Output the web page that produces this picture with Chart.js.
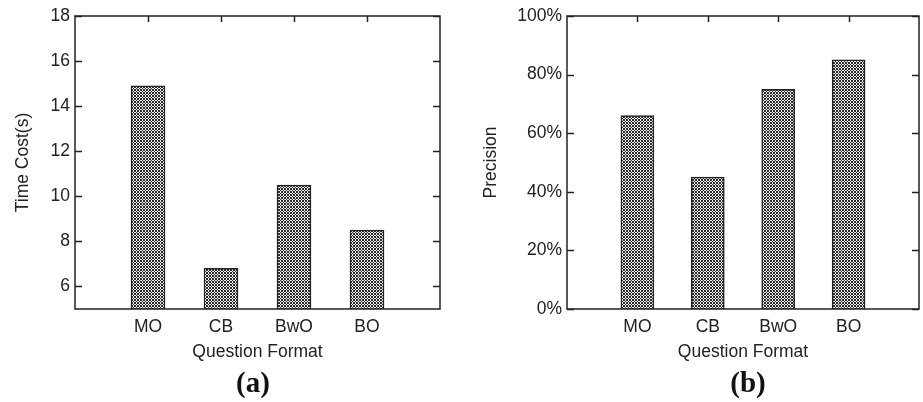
<!DOCTYPE html>
<html>
<head>
<meta charset="utf-8">
<script src="https://cdn.jsdelivr.net/npm/chart.js@4/dist/chart.umd.min.js"></script>
<style>
  body { margin: 0; background: #fff; }
  #wrap { position: relative; width: 923px; height: 402px; }
  .box { position: absolute; top: 0; height: 402px; }
  .cap { position: absolute; top: 365px; font: bold 29px "Liberation Serif", serif; color: #111; transform: translateX(-50%); line-height: 34px; }
</style>
</head>
<body>
<div id="wrap">
  <div class="box" style="left:0;width:462px"><canvas id="timeChart" width="462" height="402"></canvas></div>
  <div class="box" style="left:462px;width:461px"><canvas id="precChart" width="461" height="402"></canvas></div>
  <div class="cap" style="left:253px">(a)</div>
  <div class="cap" style="left:748px">(b)</div>
</div>
<script>
const formats   = ['MO', 'CB', 'BwO', 'BO'];
const timeCost  = [14.9, 6.8, 10.5, 8.5];   // seconds
const precision = [66, 45, 75, 85];         // percent
const timeTicks = [6, 8, 10, 12, 14, 16, 18];
const precTicks = [0, 20, 40, 60, 80, 100];

const INK = '#222';
const FONT = '"Liberation Sans", Arial, sans-serif';
const FS = 17.5;

// checkered hatch like the gnuplot fill
function makePattern() {
    const c = document.createElement('canvas');
    c.width = 3; c.height = 3;
    const g = c.getContext('2d');
    g.fillStyle = '#2a2a2a';
    g.fillRect(0, 0, 3, 3);
    g.fillStyle = '#f0f0f0';
    g.fillRect(1, 0, 1, 1);
    g.fillRect(0, 1, 1, 1);
    g.fillRect(2, 1, 1, 1);
    g.fillRect(1, 2, 1, 1);
    return g.createPattern(c, 'repeat');
}

// frame + inward ticks (left, right, top)
const framePlugin = {
    id: 'frame',
    afterDraw(chart) {
        const { ctx, chartArea: a, scales: { x, y } } = chart;
        ctx.save();
        ctx.strokeStyle = INK;
        ctx.lineWidth = 1.5;
        ctx.beginPath();
        y.ticks.forEach(t => {
            const py = Math.round(y.getPixelForValue(t.value)) + 0.5;
            ctx.moveTo(a.left, py); ctx.lineTo(a.left + 7, py);
            ctx.moveTo(a.right, py); ctx.lineTo(a.right - 7, py);
        });
        x.ticks.forEach(t => {
            const px = Math.round(x.getPixelForValue(t.value)) + 0.5;
            ctx.moveTo(px, a.top); ctx.lineTo(px, a.top + 6);
        });
        ctx.stroke();
        ctx.strokeRect(a.left, a.top, a.right - a.left, a.bottom - a.top);
        ctx.restore();
    }
};

function makeChart(id, values, yOpts, title, padLeft, yWidth, padRight, barW) {
    return new Chart(document.getElementById(id), {
        type: 'bar',
        data: {
            datasets: [{
                data: values.map((v, i) => ({ x: i + 1, y: v })),
                backgroundColor: makePattern(),
                borderColor: INK,
                borderWidth: 1.5,
                barThickness: barW,
            }],
        },
        options: {
            responsive: false,
            animation: false,
            layout: { padding: { top: 16, right: padRight, bottom: 39, left: padLeft } },
            plugins: { legend: { display: false }, tooltip: { enabled: false } },
            scales: {
                x: {
                    type: 'linear',
                    offset: false,
                    min: 0,
                    max: formats.length + 1,
                    afterBuildTicks: s => { s.ticks = formats.map((_, i) => ({ value: i + 1 })); },
                    afterFit: s => { s.height = 54; },
                    grid: { display: false, drawTicks: false },
                    border: { display: false },
                    ticks: {
                        color: INK,
                        font: { family: FONT, size: FS },
                        padding: 8,
                        maxRotation: 0,
                        callback: v => formats[v - 1],
                    },
                    title: {
                        display: true,
                        text: 'Question Format',
                        color: INK,
                        font: { family: FONT, size: FS },
                        padding: { top: 2, bottom: 0 },
                    },
                },
                y: Object.assign({
                    afterFit: s => { s.width = yWidth; },
                    grid: { display: false, drawTicks: false },
                    border: { display: false },
                    ticks: {
                        color: INK,
                        font: { family: FONT, size: FS },
                        padding: 5,
                    },
                    title: {
                        display: true,
                        text: title,
                        color: INK,
                        font: { family: FONT, size: FS },
                        padding: 0,
                    },
                }, yOpts),
            },
        },
        plugins: [framePlugin],
    });
}

makeChart('timeChart', timeCost, {
    min: 5, max: 18,
    afterBuildTicks: s => { s.ticks = timeTicks.map(v => ({ value: v })); },
}, 'Time Cost(s)', 13, 62, 22, 34);

const pc = makeChart('precChart', precision, {
    min: 0, max: 100,
    afterBuildTicks: s => { s.ticks = precTicks.map(v => ({ value: v })); },
}, 'Precision', 19, 86, 4, 33);
pc.options.scales.y.ticks.callback = v => v + '%';
pc.update();
</script>
</body>
</html>
